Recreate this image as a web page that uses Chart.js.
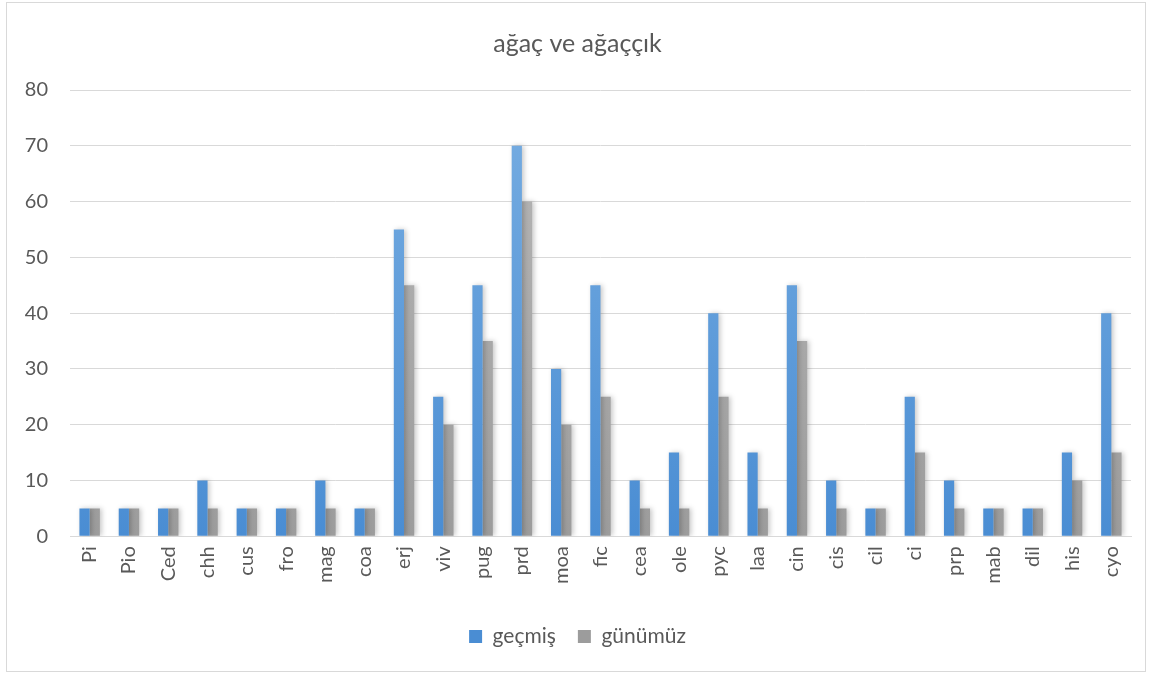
<!DOCTYPE html>
<html>
<head>
<meta charset="utf-8">
<script src="https://cdn.jsdelivr.net/npm/chart.js@4"></script>
<style>
    body { margin: 0; background: #fff; }
    #wrap { position: absolute; left: 6px; top: 2px; width: 1138px; height: 668px; border: 1px solid #d9d9d9; }
</style>
</head>
<body>
<div id="wrap"><canvas id="barChart"></canvas></div>
<script>
const categories = ['Pi', 'Pio', 'Ced', 'chh', 'cus', 'fro', 'mag', 'coa', 'erj', 'viv', 'pug', 'prd', 'moa', 'fic',
    'cea', 'ole', 'pyc', 'laa', 'cin', 'cis', 'cil', 'ci', 'prp', 'mab', 'dil', 'his', 'cyo'];
const gecmis = [5, 5, 5, 10, 5, 5, 10, 5, 55, 25, 45, 70, 30, 45, 10, 15, 40, 15, 45, 10, 5, 25, 10, 5, 5, 15, 40];
const gunumuz = [5, 5, 5, 5, 5, 5, 5, 5, 45, 20, 35, 60, 20, 25, 5, 5, 25, 5, 35, 5, 5, 15, 5, 5, 5, 10, 15];
const yTicks = [0, 10, 20, 30, 40, 50, 60, 70, 80];

const fontFamily = "Lato, 'Open Sans', sans-serif";
const textColor = '#595959';

function gradient(ctx, top, bottom) {
    const area = ctx.chart.chartArea;
    if (!area) return bottom;
    const g = ctx.chart.ctx.createLinearGradient(0, area.top, 0, area.bottom);
    g.addColorStop(0, top);
    g.addColorStop(1, bottom);
    return g;
}

// soft shadow behind bars, like the office chart
const barShadow = {
    id: 'barShadow',
    beforeDatasetsDraw(chart) {
        const c = chart.ctx;
        c.save();
        c.shadowColor = 'rgba(0,0,0,0.22)';
        c.shadowBlur = 5;
        c.shadowOffsetX = 2;
        c.shadowOffsetY = 0;
    },
    afterDatasetsDraw(chart) {
        chart.ctx.restore();
    }
};

document.addEventListener("DOMContentLoaded", function() {
    const el = document.getElementById('barChart');
    el.chart = new Chart(el, {
        type: 'bar',
        data: {
            labels: categories,
            datasets: [
                {
                    label: 'geçmiş',
                    data: gecmis,
                    backgroundColor: ctx => gradient(ctx, '#78aee2', '#4a8dd3'),
                    borderWidth: 0
                },
                {
                    label: 'günümüz',
                    data: gunumuz,
                    backgroundColor: ctx => gradient(ctx, '#b8b8b8', '#9c9c9c'),
                    borderWidth: 0
                }
            ]
        },
        options: {
            responsive: true,
            maintainAspectRatio: false,
            animation: false,
            categoryPercentage: 0.52,
            barPercentage: 1,
            layout: { padding: { left: 17, right: 14, top: 10, bottom: 14 } },
            scales: {
                x: {
                    grid: { display: false, drawTicks: false },
                    border: { display: true, color: '#d9d9d9' },
                    afterFit: axis => { axis.paddingLeft = 0; axis.paddingRight = 0; axis.height += 10; },
                    ticks: {
                        color: textColor,
                        font: { family: fontFamily, size: 20 },
                        maxRotation: 90,
                        minRotation: 90,
                        padding: 10
                    }
                },
                y: {
                    min: 0,
                    max: 80,
                    afterBuildTicks: axis => { axis.ticks = yTicks.map(v => ({ value: v })); },
                    afterFit: axis => { axis.width = 46; },
                    grid: { color: '#d9d9d9', drawTicks: false },
                    border: { display: false },
                    ticks: {
                        color: textColor,
                        font: { family: fontFamily, size: 20 },
                        padding: 22
                    }
                }
            },
            plugins: {
                title: {
                    display: true,
                    text: 'ağaç ve ağaççık',
                    color: textColor,
                    font: { family: fontFamily, size: 25, weight: 'normal' },
                    padding: { top: 16, bottom: 31 }
                },
                legend: {
                    position: 'bottom',
                    labels: {
                        color: textColor,
                        font: { family: fontFamily, size: 21 },
                        boxWidth: 13,
                        boxHeight: 13,
                        padding: 22
                    }
                },
                tooltip: { enabled: false }
            }
        },
        plugins: [barShadow]
    });
});
</script>
</body>
</html>
